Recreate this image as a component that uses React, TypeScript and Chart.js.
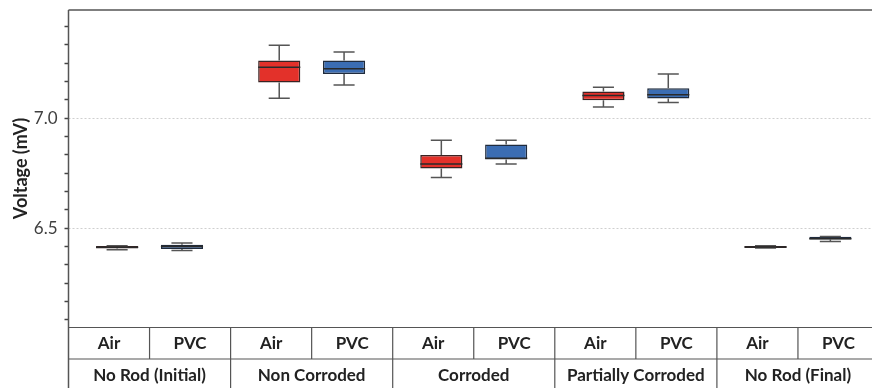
import React, { useEffect, useRef } from "react";
import { Chart, registerables } from "chart.js";

Chart.register(...registerables);

const categories = ["No Rod (Initial)", "Non Corroded", "Corroded", "Partially Corroded", "No Rod (Final)"];
const media = ["Air", "PVC"];

const airMin = [6.401, 7.091, 6.730, 7.051, 6.409];
const airQ1 = [6.407, 7.162, 6.771, 7.082, 6.409];
const airMedian = [6.413, 7.232, 6.792, 7.103, 6.414];
const airQ3 = [6.419, 7.262, 6.832, 7.121, 6.419];
const airMax = [6.420, 7.332, 6.900, 7.141, 6.420];

const pvcMin = [6.398, 7.151, 6.792, 7.071, 6.439];
const pvcQ1 = [6.405, 7.201, 6.812, 7.089, 6.448];
const pvcMedian = [6.416, 7.225, 6.818, 7.107, 6.452];
const pvcQ3 = [6.424, 7.262, 6.880, 7.136, 6.460];
const pvcMax = [6.432, 7.301, 6.900, 7.201, 6.462];

const yMin = 6.05;
const yMax = 7.492;
const majorTicks = [6.5, 7.0];
const minorTickSteps = [73, 74, 75, 76, 77, 78, 79, 80, 81, 82, 83, 84, 85, 86, 87, 88, 89]; // in 1/12 mV

const FONT = "Lato, 'Open Sans', sans-serif";

const boxPlugin = {
  id: "boxExtras",
  beforeDatasetsDraw(chart: any) {
    const { ctx, chartArea, scales } = chart;
    const y = scales.y;
    ctx.save();
    ctx.strokeStyle = "#cfcfcf";
    ctx.lineWidth = 1;
    ctx.setLineDash([2, 2]);
    majorTicks.forEach((v) => {
      const py = Math.round(y.getPixelForValue(v)) + 0.5;
      ctx.beginPath();
      ctx.moveTo(chartArea.left, py);
      ctx.lineTo(chartArea.right, py);
      ctx.stroke();
    });
    ctx.restore();
  },
  afterDatasetsDraw(chart: any) {
    const { ctx, scales } = chart;
    const y = scales.y;
    const stats = [
      { min: airMin, q1: airQ1, med: airMedian, q3: airQ3, max: airMax },
      { min: pvcMin, q1: pvcQ1, med: pvcMedian, q3: pvcQ3, max: pvcMax },
    ];
    ctx.save();
    stats.forEach((s, di) => {
      const meta = chart.getDatasetMeta(di);
      meta.data.forEach((el: any, i: number) => {
        const x = el.x;
        const w = el.width;
        const pMin = y.getPixelForValue(s.min[i]);
        const pQ1 = y.getPixelForValue(s.q1[i]);
        const pMed = y.getPixelForValue(s.med[i]);
        const pQ3 = y.getPixelForValue(s.q3[i]);
        const pMax = y.getPixelForValue(s.max[i]);
        ctx.strokeStyle = "#555555";
        ctx.lineWidth = 1.5;
        ctx.beginPath();
        if (pMax < pQ3 - 0.5) {
          ctx.moveTo(x, pQ3);
          ctx.lineTo(x, pMax);
        }
        if (pMin > pQ1 + 0.5) {
          ctx.moveTo(x, pQ1);
          ctx.lineTo(x, pMin);
        }
        ctx.moveTo(x - w / 4, pMax);
        ctx.lineTo(x + w / 4, pMax);
        ctx.moveTo(x - w / 4, pMin);
        ctx.lineTo(x + w / 4, pMin);
        ctx.stroke();
        ctx.strokeStyle = "#2a2a2a";
        ctx.lineWidth = 1.5;
        ctx.beginPath();
        ctx.moveTo(x - w / 2, pMed);
        ctx.lineTo(x + w / 2, pMed);
        ctx.stroke();
      });
    });
    ctx.restore();
  },
  afterDraw(chart: any) {
    const { ctx, chartArea, scales } = chart;
    const x = scales.x;
    const H = chart.height;
    const left = chartArea.left;
    const right = chartArea.right;
    const top = chartArea.top;
    const bottom = chartArea.bottom;
    const row1 = bottom + 32;
    const groupW = x.getPixelForValue(1) - x.getPixelForValue(0);
    ctx.save();
    ctx.strokeStyle = "#555555";
    ctx.lineWidth = 1.5;
    ctx.beginPath();
    ctx.moveTo(left, top);
    ctx.lineTo(right, top);
    ctx.moveTo(left, top);
    ctx.lineTo(left, H);
    ctx.stroke();
    ctx.lineWidth = 1.2;
    ctx.beginPath();
    ctx.moveTo(left, bottom + 0.5);
    ctx.lineTo(right, bottom + 0.5);
    ctx.moveTo(left, row1);
    ctx.lineTo(right, row1);
    categories.forEach((_, i) => {
      const c = x.getPixelForValue(i);
      ctx.moveTo(c, bottom);
      ctx.lineTo(c, row1);
      const b = c + groupW / 2;
      ctx.moveTo(b, bottom);
      ctx.lineTo(b, H);
    });
    ctx.stroke();
    ctx.fillStyle = "#222222";
    ctx.font = `bold 17px ${FONT}`;
    ctx.textAlign = "center";
    ctx.textBaseline = "middle";
    categories.forEach((cat, i) => {
      const c = x.getPixelForValue(i);
      ctx.fillText(media[0], c - groupW / 4, bottom + 17);
      ctx.fillText(media[1], c + groupW / 4, bottom + 17);
      ctx.fillText(cat, c, row1 + 17);
    });
    ctx.save();
    ctx.translate(21, (top + bottom) / 2);
    ctx.rotate(-Math.PI / 2);
    ctx.font = `bold 18px ${FONT}`;
    ctx.fillText("Voltage (mV)", 0, 0);
    ctx.restore();
    ctx.restore();
  },
};

export default function App() {
  const ref = useRef<HTMLCanvasElement | null>(null);
  useEffect(() => {
    document.body.style.margin = "0";
    document.body.style.overflow = "hidden";
    const canvas = ref.current!;
    const chart = new Chart(canvas, {
      type: "bar",
      data: {
        labels: categories,
        datasets: [
          {
            label: media[0],
            data: airQ1.map((q, i) => [q, airQ3[i]]) as any,
            backgroundColor: "#e3312a",
            borderColor: "#3a2323",
            borderWidth: 1.5,
            borderSkipped: false,
            categoryPercentage: 0.8,
            barPercentage: 0.65,
          },
          {
            label: media[1],
            data: pvcQ1.map((q, i) => [q, pvcQ3[i]]) as any,
            backgroundColor: "#3b6db3",
            borderColor: "#1f2b3d",
            borderWidth: 1.5,
            borderSkipped: false,
            categoryPercentage: 0.8,
            barPercentage: 0.65,
          },
        ],
      },
      options: {
        responsive: false,
        animation: false,
        layout: { padding: { left: 0, top: 10, right: 1, bottom: 61 } },
        plugins: { legend: { display: false }, tooltip: { enabled: false }, title: { display: false } },
        scales: {
          x: { display: false },
          y: {
            min: yMin,
            max: yMax,
            afterFit(scale: any) {
              scale.width = 68.5;
              scale.paddingTop = 0;
              scale.paddingBottom = 0;
            },
            afterBuildTicks(scale: any) {
              scale.ticks = minorTickSteps.map((k) => ({ value: k / 12 }));
            },
            border: { display: false },
            grid: {
              display: true,
              drawOnChartArea: false,
              drawTicks: true,
              tickLength: 4,
              tickColor: "#444444",
              tickWidth: 1.5,
            },
            ticks: {
              padding: 7,
              color: "#404040",
              font: { family: FONT, size: 17 },
              autoSkip: false,
              callback: (value: any) => {
                const v = Number(value);
                return majorTicks.some((m) => Math.abs(m - v) < 1e-6) ? v.toFixed(1) : "";
              },
            },
          },
        },
      },
      plugins: [boxPlugin],
    });
    return () => chart.destroy();
  }, []);
  return (
    <div style={{ width: 872, height: 388, overflow: "hidden", position: "relative" }}>
      <canvas ref={ref} width={880} height={388} style={{ display: "block", width: 880, height: 388 }} />
    </div>
  );
}
